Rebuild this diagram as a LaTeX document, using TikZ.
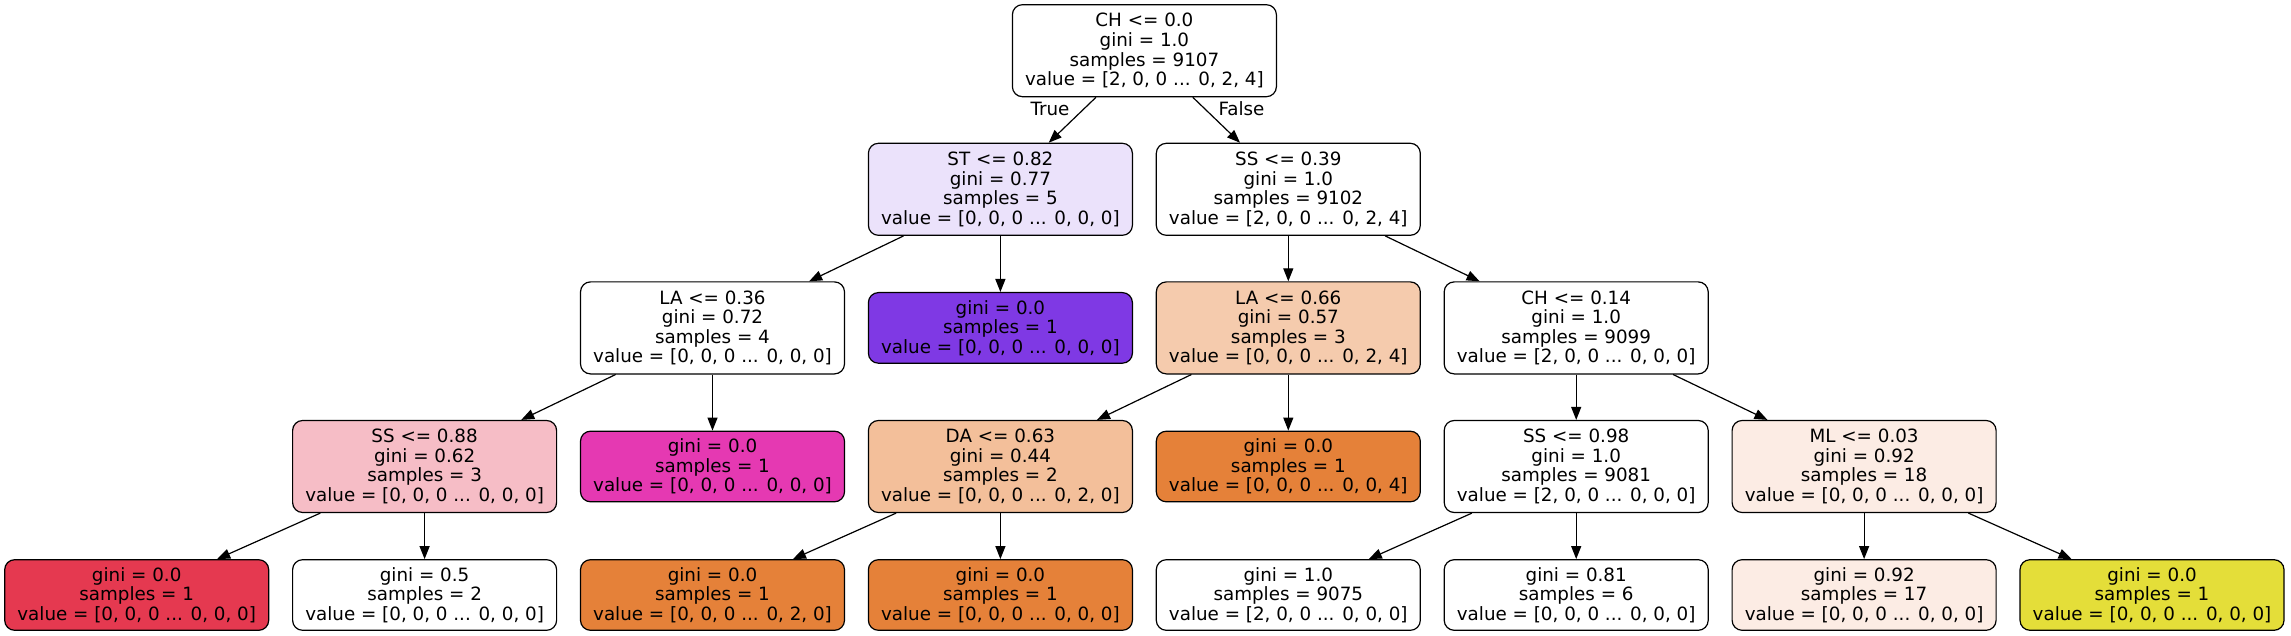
\documentclass[tikz,border=0pt]{standalone}
\usepackage{fontspec}
\setmainfont{DejaVu Sans}
\usetikzlibrary{arrows.meta}
\definecolor{cLav}{RGB}{235,226,251}
\definecolor{cPurple}{RGB}{127,57,228}
\definecolor{cLOrange}{RGB}{245,203,173}
\definecolor{cPink}{RGB}{246,189,198}
\definecolor{cMagenta}{RGB}{229,57,178}
\definecolor{cDA}{RGB}{243,191,154}
\definecolor{cOrange}{RGB}{229,129,57}
\definecolor{cPale}{RGB}{252,236,228}
\definecolor{cRed}{RGB}{229,57,80}
\definecolor{cYellow}{RGB}{228,222,57}
\newcommand{\treefont}{\fontsize{18.3}{19.6}\selectfont}
\tikzset{
  tbox/.style={draw=black, rounded corners=10pt, line width=1.2pt, fill=white,
    minimum width=264pt, minimum height=92pt, align=center, inner sep=0pt,
    font=\treefont},
  tleaf/.style={tbox, minimum height=70.6pt},
  tedge/.style={line width=1.2pt, -{Triangle[length=13pt,width=10pt]}},
  tlabel/.style={font=\treefont, inner sep=0pt}
}
\begin{document}
\begin{tikzpicture}[x=1pt,y=-1pt]
\useasboundingbox (0,0) rectangle (2291,636);
% rank 0
\node[tbox] (root) at (1144.4,50.7) {CH <= 0.0\\gini = 1.0\\samples = 9107\\value = [2, 0, 0 ... 0, 2, 4]};
% rank 1
\node[tbox, fill=cLav] (st) at (1000.4,189.3) {ST <= 0.82\\gini = 0.77\\samples = 5\\value = [0, 0, 0 ... 0, 0, 0]};
\node[tbox] (ssa) at (1288.3,189.3) {SS <= 0.39\\gini = 1.0\\samples = 9102\\value = [2, 0, 0 ... 0, 2, 4]};
% rank 2
\node[tbox] (laa) at (712.5,327.9) {LA <= 0.36\\gini = 0.72\\samples = 4\\value = [0, 0, 0 ... 0, 0, 0]};
\node[tleaf, fill=cPurple] (lp) at (1000.4,327.9) {gini = 0.0\\samples = 1\\value = [0, 0, 0 ... 0, 0, 0]};
\node[tbox, fill=cLOrange] (lab) at (1288.3,327.9) {LA <= 0.66\\gini = 0.57\\samples = 3\\value = [0, 0, 0 ... 0, 2, 4]};
\node[tbox] (chb) at (1576.2,327.9) {CH <= 0.14\\gini = 1.0\\samples = 9099\\value = [2, 0, 0 ... 0, 0, 0]};
% rank 3
\node[tbox, fill=cPink] (ssb) at (424.6,466.5) {SS <= 0.88\\gini = 0.62\\samples = 3\\value = [0, 0, 0 ... 0, 0, 0]};
\node[tleaf, fill=cMagenta] (lm) at (712.5,466.5) {gini = 0.0\\samples = 1\\value = [0, 0, 0 ... 0, 0, 0]};
\node[tbox, fill=cDA] (da) at (1000.4,466.5) {DA <= 0.63\\gini = 0.44\\samples = 2\\value = [0, 0, 0 ... 0, 2, 0]};
\node[tleaf, fill=cOrange] (lo) at (1288.3,466.5) {gini = 0.0\\samples = 1\\value = [0, 0, 0 ... 0, 0, 4]};
\node[tbox] (ssc) at (1576.2,466.5) {SS <= 0.98\\gini = 1.0\\samples = 9081\\value = [2, 0, 0 ... 0, 0, 0]};
\node[tbox, fill=cPale] (ml) at (1864.1,466.5) {ML <= 0.03\\gini = 0.92\\samples = 18\\value = [0, 0, 0 ... 0, 0, 0]};
% rank 4
\node[tleaf, fill=cRed] (l0) at (136.7,595) {gini = 0.0\\samples = 1\\value = [0, 0, 0 ... 0, 0, 0]};
\node[tleaf] (l1) at (424.6,595) {gini = 0.5\\samples = 2\\value = [0, 0, 0 ... 0, 0, 0]};
\node[tleaf, fill=cOrange] (l2) at (712.5,595) {gini = 0.0\\samples = 1\\value = [0, 0, 0 ... 0, 2, 0]};
\node[tleaf, fill=cOrange] (l3) at (1000.4,595) {gini = 0.0\\samples = 1\\value = [0, 0, 0 ... 0, 0, 0]};
\node[tleaf] (l4) at (1288.3,595) {gini = 1.0\\samples = 9075\\value = [2, 0, 0 ... 0, 0, 0]};
\node[tleaf] (l5) at (1576.2,595) {gini = 0.81\\samples = 6\\value = [0, 0, 0 ... 0, 0, 0]};
\node[tleaf, fill=cPale] (l6) at (1864.1,595) {gini = 0.92\\samples = 17\\value = [0, 0, 0 ... 0, 0, 0]};
\node[tleaf, fill=cYellow] (l7) at (2152,595) {gini = 0.0\\samples = 1\\value = [0, 0, 0 ... 0, 0, 0]};
% edges
\draw[tedge] (root) -- (st);
\draw[tedge] (root) -- (ssa);
\draw[tedge] (st) -- (laa);
\draw[tedge] (st) -- (lp);
\draw[tedge] (laa) -- (ssb);
\draw[tedge] (laa) -- (lm);
\draw[tedge] (ssb) -- (l0);
\draw[tedge] (ssb) -- (l1);
\draw[tedge] (ssa) -- (lab);
\draw[tedge] (ssa) -- (chb);
\draw[tedge] (lab) -- (da);
\draw[tedge] (lab) -- (lo);
\draw[tedge] (da) -- (l2);
\draw[tedge] (da) -- (l3);
\draw[tedge] (chb) -- (ssc);
\draw[tedge] (chb) -- (ml);
\draw[tedge] (ssc) -- (l4);
\draw[tedge] (ssc) -- (l5);
\draw[tedge] (ml) -- (l6);
\draw[tedge] (ml) -- (l7);
% edge labels
\node[tlabel] (ltrue) at (1050,109) {True};
\node[tlabel] (lfalse) at (1241.5,109) {False};
\end{tikzpicture}
\end{document}
